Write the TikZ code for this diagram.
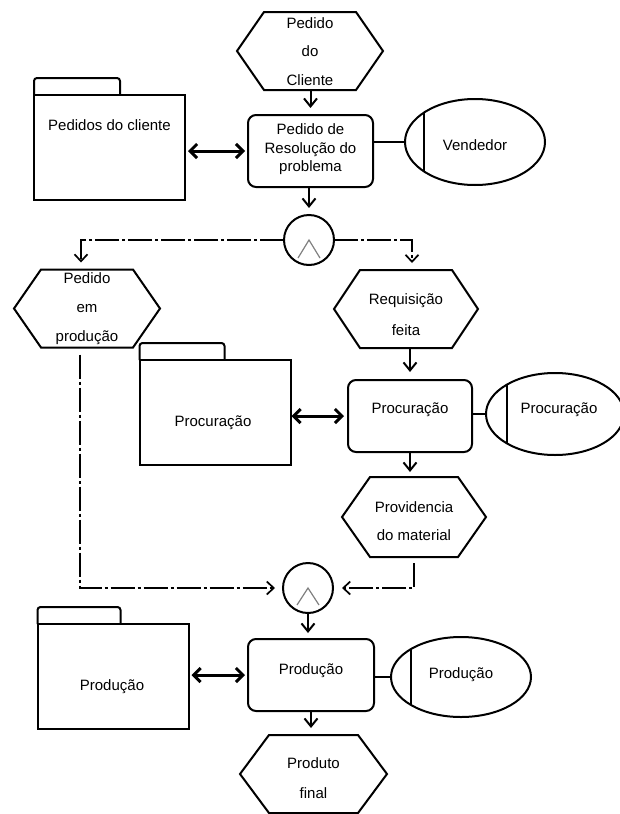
\documentclass[tikz,border=0pt]{standalone}
\usepackage{fontspec}
\setmainfont{Liberation Sans}
\usetikzlibrary{arrows.meta,shapes.geometric,calc}

% hexagonal event frame around an (invisible) rectangular node
\newcommand\hexframe[2]{%
  \draw[outline] (#1.west) -- ([xshift=#2]#1.north west) -- ([xshift=-#2]#1.north east)
    -- (#1.east) -- ([xshift=-#2]#1.south east) -- ([xshift=#2]#1.south west) -- cycle;}
% folder tab on top of a folder body node
\newcommand\foldertab[2]{%
  \draw[outline, rounded corners=3pt] (#1.north west) -- ++(0,-17) -- ++(#2,0) -- ++(0,17);}

\begin{document}
\begin{tikzpicture}[x=1pt,y=-1pt,
  every node/.style={inner sep=0pt, outer sep=0pt},
  outline/.style={draw, line width=2pt},
  txt/.style={align=center, font=\fontsize{15}{#1}\selectfont},
  txt/.default=18,
  procbox/.style={outline, rounded corners=8pt, minimum width=#1, minimum height=72pt},
  hexbox/.style={minimum width=#1, minimum height=78pt},
  folderbody/.style={outline, minimum width=151pt, minimum height=105pt},
  roleell/.style={outline, ellipse, path picture={
      \draw[line width=2pt] ([xshift=#1]path picture bounding box.north west)
        -- ([xshift=#1]path picture bounding box.south west);}},
  joint/.style={outline, circle, minimum size=50pt},
  andmark/.style={draw=gray, line width=1.2pt},
  flow/.style={line width=2pt, -{Straight Barb[length=8pt,width=13pt]}},
  datalink/.style={line width=3pt,
      {Straight Barb[length=7pt,width=14pt]}-{Straight Barb[length=7pt,width=14pt]}},
  dashflow/.style={line width=1.7pt, dash pattern=on 24pt off 3pt on 3pt off 3pt,
      -{Straight Barb[length=7pt,width=13pt]}},
  link/.style={line width=2pt}
]
\useasboundingbox (0,0) rectangle (620,814);
\clip (0,0) rectangle (620,814);

% ---- order received ----
\node[hexbox=146pt] (h1) at (310,51) {};
\hexframe{h1}{27pt}
\node[txt=28.5] (h1t) at (310,51.5) {Pedido\\do\\Cliente};

\node[procbox=125pt] (box1) at (310.5,151) {};
\node[txt=18.5] (box1t) at (310.5,149.5) {Pedido de\\Resolução do\\problema};

\node[folderbody] (f1) at (109.5,147.5) {};
\foldertab{f1}{86}
\node[txt] (f1t) at (109.5,125.5) {Pedidos do cliente};

\node[roleell=19pt, minimum width=140pt, minimum height=86pt] (ven) at (475,142) {};
\node[txt] (vent) at (475,145) {Vendedor};

\node[joint] (c1) at (309,240) {};
\draw[andmark] ([shift={(-11,18)}]c1.center) -- (c1.center) -- ([shift={(11,18)}]c1.center);

% ---- split ----
\node[hexbox=146pt] (h2) at (87,308.5) {};
\hexframe{h2}{27pt}
\node[txt=29] (h2t) at (87,309) {Pedido\\em\\produção};

\node[hexbox=144pt] (h3) at (406,309) {};
\hexframe{h3}{26pt}
\node[txt=31] (h3t) at (406,314.5) {Requisição\\feita};

% ---- procurement ----
\node[folderbody] (f2) at (215,412.5) {};
\foldertab{f2}{85}
\node[txt] (f2t) at (213,423) {Procuração};

\node[procbox=124pt] (box2) at (410,416) {};
\node[txt] (box2t) at (410,410) {Procuração};

\node[roleell=21pt, minimum width=138pt, minimum height=82pt] (ell2) at (555,414) {};
\node[txt] (ell2t) at (559,410) {Procuração};

\node[hexbox=144pt, minimum height=80pt] (h4) at (414,517) {};
\hexframe{h4}{28pt}
\node[txt=28] (h4t) at (414,521) {Providencia\\do material};

\node[joint] (c2) at (308,588) {};
\draw[andmark] ([shift={(-11,17)}]c2.center) -- (c2.center) -- ([shift={(11,17)}]c2.center);

% ---- production ----
\node[folderbody] (f3) at (113,676.5) {};
\foldertab{f3}{83}
\node[txt] (f3t) at (112,687) {Produção};

\node[procbox=126pt] (box3) at (311,675) {};
\node[txt] (box3t) at (311,671) {Produção};

\node[roleell=20pt, minimum width=140pt, minimum height=80pt] (ell3) at (461,677) {};
\node[txt] (ell3t) at (461,675) {Produção};

\node[hexbox=147pt] (h5) at (313.5,774) {};
\hexframe{h5}{29pt}
\node[txt=30] (h5t) at (313.5,778) {Produto\\final};

% ---- connectors ----
\draw[flow, shorten >=7pt] (box1.north |- h1.south) -- (box1.north);
\draw[datalink, shorten <=3pt, shorten >=3pt] (f1.east |- box1.west) -- (box1.west);
\draw[link] (box1.east |- ven.west) -- (ven.west);
\draw[flow, shorten >=7pt] (c1.north |- box1.south) -- (c1.north);

\draw[dashflow, shorten >=7pt] (c1.west) -| ([xshift=-6pt]h2.north);
\draw[dashflow, shorten >=7pt] (c1.east) -| ([xshift=6pt]h3.north);

\draw[flow, shorten >=8pt] (box2.north |- h3.south) -- (box2.north);
\draw[datalink, shorten <=1pt, shorten >=4pt] (f2.east |- box2.west) -- (box2.west);
\draw[link] (box2.east |- ell2.west) -- (ell2.west);
\draw[flow, shorten >=5pt] (box2.south) -- (box2.south |- h4.north);

\draw[dashflow, shorten <=7pt, shorten >=8pt] ([xshift=-7pt]h2.south) |- (c2.west);
\draw[dashflow, shorten <=6pt, shorten >=9pt] (h4.south) |- (c2.east);

\draw[flow, shorten >=6pt] (c2.south) -- (c2.south |- box3.north);
\draw[datalink, shorten <=3pt, shorten >=3pt] (f3.east |- box3.west) -- (box3.west);
\draw[link] (box3.east |- ell3.west) -- (ell3.west);
\draw[flow, shorten >=7pt] (box3.south) -- (box3.south |- h5.north);
\end{tikzpicture}
\end{document}
